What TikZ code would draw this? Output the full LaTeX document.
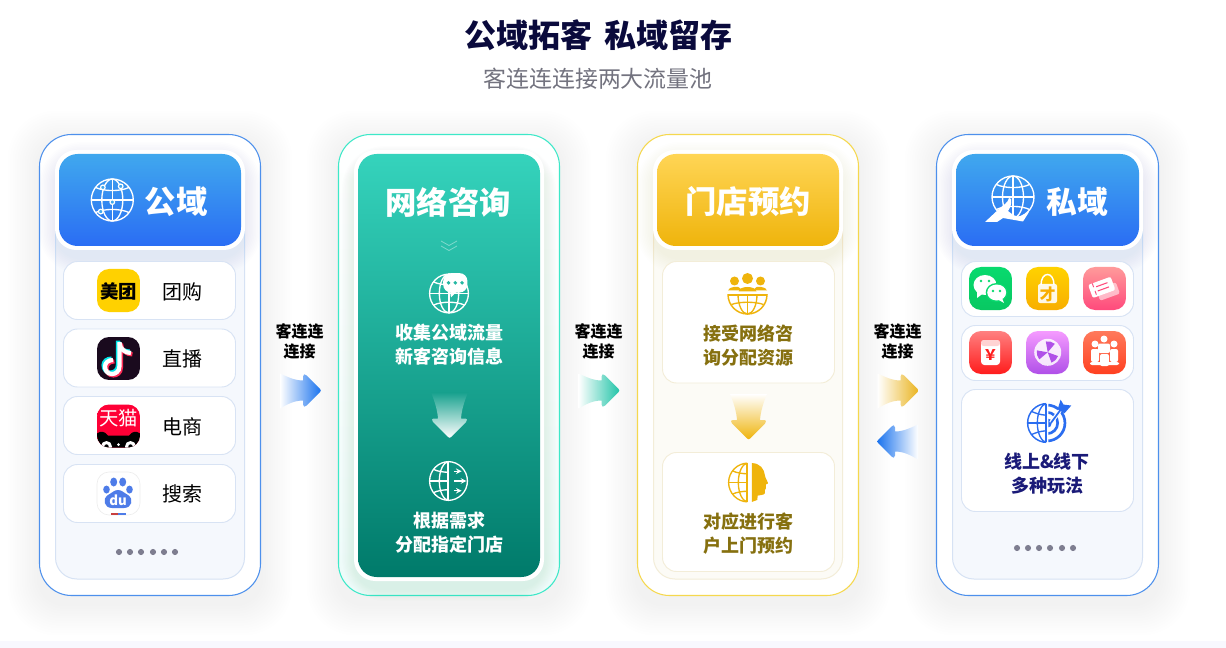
\documentclass[tikz,border=0pt]{standalone}
\usepackage{fontspec}
\setmainfont{Noto Sans CJK SC}
\usetikzlibrary{calc}
\definecolor{cBlueT}{HTML}{40A8EE}\definecolor{cBlueB}{HTML}{2A6DF4}
\definecolor{cGreenT}{HTML}{35D3BC}\definecolor{cGreenB}{HTML}{007A6A}
\definecolor{cGoldT}{HTML}{FFD555}\definecolor{cGoldB}{HTML}{EFB40C}
\definecolor{cBlueLine}{HTML}{4D90EC}\definecolor{cGreenLine}{HTML}{3DE8C8}\definecolor{cGoldLine}{HTML}{F5D84E}
\definecolor{cPanelB}{HTML}{F5F8FD}\definecolor{cPanelBL}{HTML}{D6E2F4}
\definecolor{cPanelY}{HTML}{FCFBF6}\definecolor{cPanelYL}{HTML}{F3EDD8}
\definecolor{cRowBL}{HTML}{D8E3F4}
\definecolor{cTitle}{HTML}{0A0A3C}\definecolor{cSub}{HTML}{73737F}
\definecolor{cOlive}{HTML}{86700F}\definecolor{cNavy}{HTML}{1A1A78}
\definecolor{cDot}{HTML}{7E7E90}\definecolor{cIconB}{HTML}{2A6DF0}
\definecolor{cIconY}{HTML}{EFB40C}
\definecolor{aMeituan}{HTML}{FFD100}\definecolor{aTiktok}{HTML}{1A0A1E}\definecolor{aTmall}{HTML}{FF0036}
\definecolor{aBaidu}{HTML}{4E7CE8}\definecolor{aBaiduR}{HTML}{C8403F}
\definecolor{aWxT}{HTML}{08DA6E}\definecolor{aWxB}{HTML}{08C862}
\definecolor{aBagT}{HTML}{FFD200}\definecolor{aBagB}{HTML}{F8AE00}
\definecolor{aTicT}{HTML}{FF9A9A}\definecolor{aTicB}{HTML}{FF4A7C}
\definecolor{aRedT}{HTML}{FF8080}\definecolor{aRedB}{HTML}{FF1C1C}
\definecolor{aWhlT}{HTML}{F59BFF}\definecolor{aWhlB}{HTML}{B050E8}
\definecolor{aTeamT}{HTML}{FF7A5C}\definecolor{aTeamB}{HTML}{FF4020}
\definecolor{ttCyan}{HTML}{00E5E8}\definecolor{ttRed}{HTML}{FF2A55}
\definecolor{cBand}{HTML}{F8F8FE}
\definecolor{fBlue}{HTML}{1A73EE}\definecolor{fGreen}{HTML}{22C4A8}\definecolor{fGold}{HTML}{EAB420}
\newcommand{\pxf}[1]{\fontsize{#1}{#1}\selectfont}
\tikzset{
  x=0.75pt,y=-0.75pt,
  cardbox/.style={fill=white,draw=#1,line width=0.8pt,rounded corners=24pt},
  panelbox/.style={fill=cPanelB,draw=cPanelBL,line width=0.75pt,rounded corners=16pt},
  panelgold/.style={fill=cPanelY,draw=cPanelYL,line width=0.75pt,rounded corners=16pt},
  platebox/.style={fill=white,rounded corners=16pt},
  headbox/.style n args={2}{top color=#1,bottom color=#2,rounded corners=14pt},
  rowbox/.style={fill=white,draw=cRowBL,line width=0.7pt,rounded corners=10.5pt},
  rowgold/.style={fill=white,draw=cPanelYL,line width=0.7pt,rounded corners=10.5pt},
  headtxt/.style={text=white,font=\bfseries\pxf{23.5pt},inner sep=0pt},
  whitetxt/.style={text=white,font=\bfseries\pxf{13.5pt},inner sep=0pt,align=center},
  olivetxt/.style={text=cOlive,font=\bfseries\pxf{13.5pt},inner sep=0pt},
  navytxt/.style={text=cNavy,font=\bfseries\pxf{13.5pt},inner sep=0pt},
  rowtxt/.style={text=black,font=\pxf{15pt},inner sep=0pt},
  flowtxt/.style={text=black,font=\bfseries\pxf{12pt},inner sep=0pt},
  gstroke/.style={draw=#1,line width=1pt,fill=none},
  dotmark/.style={circle,fill=cDot,inner sep=0pt,minimum size=4.6pt},
}
% soft shadow: x1 y1 x2 y2 colour spread opacity layers
\newcommand{\softshadow}[8]{%
  \foreach \i in {1,...,#8}{%
    \fill[#5,opacity=#7,rounded corners={20pt+\i*1.2pt}]
      ({#1-\i*#6},{#2-\i*#6+8}) rectangle ({#3+\i*#6},{#4+\i*#6+8});}}
% globe lines, r = 20 units, in a scope
\newcommand{\globelines}[1]{%
  \draw[gstroke=#1] (0,0) circle [radius=20];
  \draw[gstroke=#1] (0,0) ellipse [x radius=10,y radius=20];
  \draw[gstroke=#1] (0,-20) -- (0,20) (-20,0) -- (20,0);
  \draw[gstroke=#1] (-16,-12) .. controls (-8,-8) and (8,-8) .. (16,-12);
  \draw[gstroke=#1] (-16,12) .. controls (-8,8) and (8,8) .. (16,12);}
\newcommand{\halfglobe}[1]{%
  \begin{scope}
    \clip (-22,-22) rectangle (-1,22);
    \globelines{#1}
  \end{scope}
  \draw[gstroke=#1] (-1,-20) -- (-1,20);}
% app icon: x y top bottom content
\newcommand{\appicon}[5]{%
  \begin{scope}[shift={(#1,#2)}]
    \begin{scope}
      \clip[rounded corners=9pt] (0,0) rectangle (43,43);
      \path[top color=#3,bottom color=#4] (0,0) rectangle (43,43);
      #5
    \end{scope}
  \end{scope}}
% horizontal flow arrow, origin at tail-centre
\newcommand{\flowshape}{%
  (0,-17) .. controls (7,-14) and (14,-10) .. (23,-10) -- (23,-14)
  .. controls (23,-16.5) and (25,-17) .. (26.5,-15) -- (40,-1.5)
  .. controls (41,-0.5) and (41,0.5) .. (40,1.5) -- (26.5,15)
  .. controls (25,17) and (23,16.5) .. (23,14) -- (23,10)
  .. controls (14,10) and (7,14) .. (0,18) -- cycle}
% vertical flow arrow, origin at tail-centre
\newcommand{\dropshape}{%
  (-18.5,0) .. controls (-15,8) and (-12,18) .. (-11.5,26) -- (-15,26)
  .. controls (-18,26) and (-18,28) .. (-16.5,29.5) -- (-1.5,44.5)
  .. controls (-0.5,45.5) and (0.5,45.5) .. (1.5,44.5) -- (16.5,29.5)
  .. controls (18,28) and (18,26) .. (15,26) -- (11.5,26)
  .. controls (12,18) and (15,8) .. (18.5,0) -- cycle}
\begin{document}
\begin{tikzpicture}
\useasboundingbox (0,0) rectangle (1226,648);
\fill[white] (0,0) rectangle (1226,648);
\fill[cBand] (0,641) rectangle (1226,648);

% titles
\node[text=cTitle,font=\bfseries\pxf{24pt},inner sep=0pt] (title) at (598,35) {公域拓客\hspace{9pt}私域留存};
\node[text=cSub,font=\pxf{17.2pt},inner sep=0pt] (subtitle) at (598,79) {客连连连接两大流量池};

% ---------- shadows ----------
\softshadow{39}{134}{261}{596}{black}{2.4}{0.0035}{13}
\softshadow{338}{134}{560}{596}{black}{2.4}{0.0035}{13}
\softshadow{637}{134}{859}{596}{black}{2.4}{0.0035}{13}
\softshadow{936}{134}{1159}{596}{black}{2.4}{0.0035}{13}

% ---------- card 1 ----------
\path[cardbox=cBlueLine] (39.5,134.5) rectangle (260.5,595.5);
\path[panelbox] (55.5,170) rectangle (244.5,579);
\softshadow{55}{150}{245}{250}{cBlueB}{1.6}{0.009}{10}
\path[platebox] (55,150) rectangle (245,250);
\path[headbox={cBlueT}{cBlueB}] (59,154) rectangle (241,246);
\begin{scope}[shift={(112.3,200)},scale=1.05]
  \globelines{white}
  \foreach \a/\b in {-9/-12,8/-13,0/2,-11/11}{\draw[white,line width=0.9pt,fill=cBlueT] (\a,\b) circle [radius=2.2];}
\end{scope}
\node[headtxt] (h1) at (176,202) {公域};
\foreach \n/\y in {a/261.5,b/329,c/396.5,d/464.5}{
  \path[rowbox] (63.5,\y) rectangle (235.5,\y+58);}
\node[rowtxt] (t1) at (182,292) {团购};
\node[rowtxt] (t2) at (182,359) {直播};
\node[rowtxt] (t3) at (182,427) {电商};
\node[rowtxt] (t4) at (182,494) {搜索};
\appicon{97}{269}{aMeituan}{aMeituan}{}
\node[text=black,font=\bfseries\pxf{13.8pt},inner sep=0pt] (mt) at (118.5,291) {美团};
\begin{scope}[shift={(97,337)}]
  \begin{scope}
  \clip[rounded corners=9pt] (0,0) rectangle (43,43);
  \fill[aTiktok] (0,0) rectangle (43,43);
  \foreach \c/\d in {ttCyan/-1.4,ttRed/1.4,white/0}{
    \draw[\c,line width=3.2pt] (22.5+\d,5+\d) -- (22.5+\d,29+\d)
       .. controls (22.5+\d,35+\d) and (18+\d,37+\d) .. (15+\d,37+\d)
       .. controls (10+\d,37+\d) and (8+\d,33+\d) .. (8+\d,29.5+\d)
       .. controls (8+\d,26+\d) and (11+\d,23+\d) .. (16+\d,23+\d);
    \draw[\c,line width=3.2pt] (22.5+\d,6+\d) .. controls (23+\d,12+\d) and (28+\d,16+\d) .. (34+\d,16+\d);
  }
  \end{scope}
\end{scope}
\appicon{97}{404.5}{aTmall}{aTmall}{
  \fill[black] (0,43) -- (0,29) .. controls (4,26) and (8,27) .. (11,31) -- (32,31) .. controls (35,27) and (39,26) .. (43,29) -- (43,43) -- cycle;
  \fill[white] (9.5,42) circle [radius=5.5]; \fill[white] (33.5,42) circle [radius=5.5];
  \fill[black] (9.5,42) circle [radius=2.2]; \fill[black] (33.5,42) circle [radius=2.2];
  \fill[white] (21.5,40) circle [radius=1.5];}
\node[text=white,font=\pxf{14.5pt},inner sep=0pt] (tm) at (118.5,418) {天猫};
\begin{scope}[shift={(97,472)}]
  \draw[black!7,line width=0.5pt,fill=white,rounded corners=9pt] (0,0) rectangle (43,43);
  \fill[aBaidu] (16.7,10) ellipse [x radius=3.5,y radius=4.5];
  \fill[aBaidu] (25.7,10) ellipse [x radius=3.5,y radius=4.5];
  \fill[aBaidu] (9.5,17.5) ellipse [x radius=3.3,y radius=4];
  \fill[aBaidu] (32.5,17.5) ellipse [x radius=3.3,y radius=4];
  \fill[aBaidu] (21,18) .. controls (25,18) and (27,21) .. (31,23) .. controls (37,27) and (35,36) .. (27,36) -- (15,36) .. controls (7,36) and (5,27) .. (11,23) .. controls (15,21) and (17,18) .. (21,18) -- cycle;
  \fill[aBaiduR] (13.5,40.5) rectangle (21,43);
  \fill[aBaidu] (21,40.5) rectangle (29,43);
\end{scope}
\node[text=white,font=\bfseries\pxf{10pt},inner sep=0pt] (du) at (118,500) {du};
\foreach \x in {119,130,141,153,164,175}{\node[dotmark] at (\x,552) {};}

% ---------- card 2 ----------
\path[draw=cGreenLine,line width=0.8pt,top color=white,bottom color=cGreenT!9!white,rounded corners=24pt] (338.5,134.5) rectangle (559.5,595.5);
\softshadow{354}{150}{544}{581}{cGreenB}{1.2}{0.008}{10}
\path[platebox] (354,150) rectangle (544,581);
\path[headbox={cGreenT}{cGreenB}] (358,154) rectangle (540,577);
\node[headtxt] (h2) at (448,202) {网络咨询};
\draw[white,opacity=0.4,line width=0.6pt] (441,241) -- (449,245.5) -- (457,241);
\draw[white,opacity=0.4,line width=0.6pt] (441,246) -- (449,250.5) -- (457,246);
\begin{scope}[shift={(449,293.5)},scale=0.97]
  \globelines{white}
  \fill[white,rounded corners=6pt] (-6,-21) rectangle (19,-1);
  \fill[white] (1,-3) -- (9,-3) -- (2,4) -- cycle;
  \foreach \a in {0,7,14}{\fill[cGreenT!70!cGreenB] (\a-0.5,-11) circle [radius=2];}
\end{scope}
\node[whitetxt] (g1) at (449,333) {收集公域流量};
\node[whitetxt] (g2) at (449,357) {新客咨询信息};
\begin{scope}[shift={(449.5,392.5)}]
  \path[top color=cGreenT!44!cGreenB,bottom color=white] \dropshape;
\end{scope}
\begin{scope}[shift={(449,481)},scale=0.97]
  \halfglobe{white}
  \draw[gstroke=white] (-1,-20) arc [start angle=-90,end angle=90,radius=20];
  \foreach \y/\l in {-10/8,0/13,10/8}{\draw[white,line width=0.9pt,-stealth] (5,\y) -- (5+\l,\y);}
\end{scope}
\node[whitetxt] (g3) at (449,521) {根据需求};
\node[whitetxt] (g4) at (449,545) {分配指定门店};

% ---------- card 3 ----------
\path[cardbox=cGoldLine] (637.5,134.5) rectangle (858.5,595.5);
\path[panelgold] (653.5,170) rectangle (842.5,579);
\softshadow{653}{150}{843}{250}{cGoldB}{1.6}{0.007}{10}
\path[platebox] (653,150) rectangle (843,250);
\path[headbox={cGoldT}{cGoldB}] (657,154) rectangle (839,246);
\node[headtxt] (h3) at (748,202) {门店预约};
\path[rowgold] (662.5,261.5) rectangle (834.5,383);
\path[rowgold] (662.5,452.5) rectangle (834.5,571.5);
% people + half globe
\begin{scope}[shift={(747.5,294.5)}]
  \begin{scope}
    \clip (-21,0) rectangle (21,22);
    \draw[gstroke=cIconY,line width=1.1pt] (0,0) circle [radius=19.5];
    \draw[gstroke=cIconY] (0,0) ellipse [x radius=9.5,y radius=19.5];
    \draw[gstroke=cIconY] (0,0) -- (0,20);
    \draw[gstroke=cIconY] (-16,10) .. controls (-8,7) and (8,7) .. (16,10);
  \end{scope}
  \draw[cIconY,line width=1.1pt] (-19.5,0.3) -- (19.5,0.3);
  \fill[cIconY] (-13,-13.5) circle [radius=4.5];
  \fill[cIconY] (13,-13.5) circle [radius=4.5];
  \fill[cIconY] (-19.5,-4) .. controls (-19,-8) and (-8,-9) .. (-7,-6) -- (-8,-4) -- cycle;
  \fill[cIconY] (19.5,-4) .. controls (19,-8) and (8,-9) .. (7,-6) -- (8,-4) -- cycle;
  \fill[cIconY] (0,-16) circle [radius=5.5];
  \fill[cIconY] (-9,-3) .. controls (-8,-9) and (8,-9) .. (9,-3) -- cycle;
\end{scope}
\node[olivetxt] (y1) at (748,334) {接受网络咨};
\node[olivetxt] (y2) at (748,358) {询分配资源};
\begin{scope}[shift={(748.5,394)}]
  \path[top color=white,bottom color=cIconY] \dropshape;
\end{scope}
\begin{scope}[shift={(748,482.5)},scale=0.97]
  \halfglobe{cIconY}
  \fill[cIconY] (4,-20) .. controls (12,-20) and (17,-14) .. (17.5,-7) .. controls (18,-4) and (21,0) .. (20.5,1)
    -- (18.5,2) -- (18.5,6) -- (17.5,7.5) -- (17.5,11) .. controls (17,13) and (12,13) .. (10,13.5)
    -- (9.5,18) -- (4,20) -- cycle;
\end{scope}
\node[olivetxt] (y3) at (748,522) {对应进行客};
\node[olivetxt] (y4) at (748,546) {户上门预约};

% ---------- card 4 ----------
\path[cardbox=cBlueLine] (936.5,134.5) rectangle (1158.5,595.5);
\path[panelbox] (952.5,170) rectangle (1142.5,579);
\softshadow{952}{150}{1143}{250}{cBlueB}{1.6}{0.009}{10}
\path[platebox] (952,150) rectangle (1143,250);
\path[headbox={cBlueT}{cBlueB}] (956,154) rectangle (1139,246);
\begin{scope}[shift={(1013,197)},scale=1.05]
  \globelines{white}
\end{scope}
\fill[white] (985,222) -- (1000,208) .. controls (1003,205) and (1008,203) .. (1009,198) -- (1011,199) .. controls (1012,204) and (1010,208) .. (1008,211) .. controls (1012,214) and (1016,218) .. (1021,216) -- (1029,212) -- (1023,221.5) -- (1003,218) -- (997,222) -- cycle;
\node[headtxt,font=\bfseries\pxf{23pt}] (h4) at (1077,202) {私域};
\path[rowbox] (961.5,261.5) rectangle (1133.5,316.5);
\path[rowbox] (961.5,325.5) rectangle (1133.5,380.5);
\path[rowbox] (961.5,389.5) rectangle (1133.5,511.5);
\appicon{969}{267}{aWxT}{aWxB}{
  \fill[white] (16,18) ellipse [x radius=11.5,y radius=10];
  \fill[white] (8,25) -- (8,31) -- (14,26.5) -- cycle;
  \fill[aWxT] (27.7,25.5) ellipse [x radius=11,y radius=9.5];
  \fill[white] (27.7,25.5) ellipse [x radius=9.5,y radius=8];
  \fill[white] (33,31) -- (35,36) -- (28,32) -- cycle;
  \foreach \p in {(12,14),(20,14),(24,24),(31,24)}{\fill[aWxT] \p circle [radius=1.3];}}
\appicon{1026}{267}{aBagT}{aBagB}{
  \draw[white,line width=1.1pt] (15,18) .. controls (15,4) and (28,4) .. (28,18);
  \fill[white,opacity=0.9,rounded corners=1.5pt] (12,17) rectangle (31,36);
  \node[text=aBagB,font=\bfseries\pxf{12pt},inner sep=0pt] (bag) at (21.5,27) {才};}
\appicon{1083}{267}{aTicT}{aTicB}{
  \begin{scope}[shift={(20,21)},rotate=20]
    \fill[white,opacity=0.55,rounded corners=1.5pt] (-7,-1) rectangle (14,11);
    \fill[white,rounded corners=1.5pt] (-13,-8) rectangle (11,6);
    \draw[aTicB,line width=0.8pt] (-6,-3.5) -- (6,-3.5) (-6,1) -- (6,1);
    \draw[aTicB,line width=0.7pt,dashed] (-8.5,-8) -- (-8.5,6);
  \end{scope}}
\appicon{969}{331}{aRedT}{aRedB}{
  \fill[white,rounded corners=2.5pt] (12,9) rectangle (31,34);
  \fill[aRedT!35!white,rounded corners=2pt] (12,9) rectangle (31,15);
  \node[text=aRedB,font=\bfseries\pxf{11pt},inner sep=0pt] (yen) at (21.5,24) {￥};}
\appicon{1026}{331}{aWhlT}{aWhlB}{
  \fill[white,opacity=0.85] (21.7,21.3) circle [radius=13.5];
  \foreach \a in {20,140,260}{
    \fill[aWhlB] (21.7,21.3) -- ++(\a:11) arc [start angle=\a,end angle=\a+50,radius=11] -- cycle;}}
\appicon{1083}{331}{aTeamT}{aTeamB}{
  \fill[white] (21,8) circle [radius=3.5];
  \fill[white] (12,13) circle [radius=3.5];
  \fill[white] (31,13) circle [radius=3.5];
  \fill[white,rounded corners=1.5pt] (15,12.5) rectangle (27,22);
  \fill[white,rounded corners=1.5pt] (8,18) rectangle (16,31);
  \fill[white,rounded corners=1.5pt] (27,18) rectangle (35,31);
  \fill[white,rounded corners=1.5pt] (17,23) rectangle (26,35);
  \fill[white,rounded corners=1.5pt] (7,31) rectangle (36,34);}
\begin{scope}[shift={(1047,423)},scale=0.97]
  \begin{scope}
    \clip (-22,-22) rectangle (-1,22);
    \draw[gstroke=cIconB,line width=1.1pt] (0,0) circle [radius=20];
    \draw[gstroke=cIconB] (0,0) ellipse [x radius=10,y radius=20];
    \draw[gstroke=cIconB] (-20,0) -- (0,0);
    \draw[gstroke=cIconB] (-16,-12) .. controls (-8,-8) and (0,-8) .. (0,-8);
    \draw[gstroke=cIconB] (-16,12) .. controls (-8,8) and (0,8) .. (0,8);
  \end{scope}
  \draw[gstroke=cIconB] (-1,-20) -- (-1,20);
  \begin{scope}
    \clip (1.5,-22) rectangle (24,22);
    \draw[cIconB,line width=2pt] (0,0) circle [radius=18.5];
    \draw[cIconB,line width=2pt] (0,0) circle [radius=11];
    \fill[cIconB] (0,0) circle [radius=5];
  \end{scope}
  \draw[white,line width=3pt] (4,0) -- (14,-14);
  \draw[cIconB,line width=1.3pt] (4,0) -- (15,-15);
  \fill[cIconB] (11,-14) -- (14,-24) -- (17,-19) -- (25,-18) -- (18,-10) -- cycle;
\end{scope}
\node[navytxt] (b1) at (1047,461.5) {线上\&线下};
\node[navytxt] (b2) at (1047,485.5) {多种玩法};
\foreach \x in {1017,1028,1039,1050,1062,1073}{\node[dotmark] at (\x,548) {};}

% ---------- flow arrows ----------
\node[flowtxt] (f1a) at (299.5,331) {客连连};
\node[flowtxt] (f1b) at (299.5,352) {连接};
\node[flowtxt] (f2a) at (598.5,331) {客连连};
\node[flowtxt] (f2b) at (598.5,352) {连接};
\node[flowtxt] (f3a) at (897.5,331) {客连连};
\node[flowtxt] (f3b) at (897.5,352) {连接};
\begin{scope}[shift={(280,390.5)}]
  \path[left color=white,middle color=fBlue!45!white,right color=fBlue] \flowshape;
\end{scope}
\begin{scope}[shift={(578.5,390.5)}]
  \path[left color=white,middle color=fGreen!50!white,right color=fGreen] \flowshape;
\end{scope}
\begin{scope}[shift={(877.5,390.5)}]
  \path[left color=white,middle color=fGold!50!white,right color=fGold] \flowshape;
\end{scope}
\begin{scope}[shift={(918,441.5)},xscale=-1]
  \path[left color=fBlue,middle color=fBlue!45!white,right color=white] \flowshape;
\end{scope}
\end{tikzpicture}
\end{document}
